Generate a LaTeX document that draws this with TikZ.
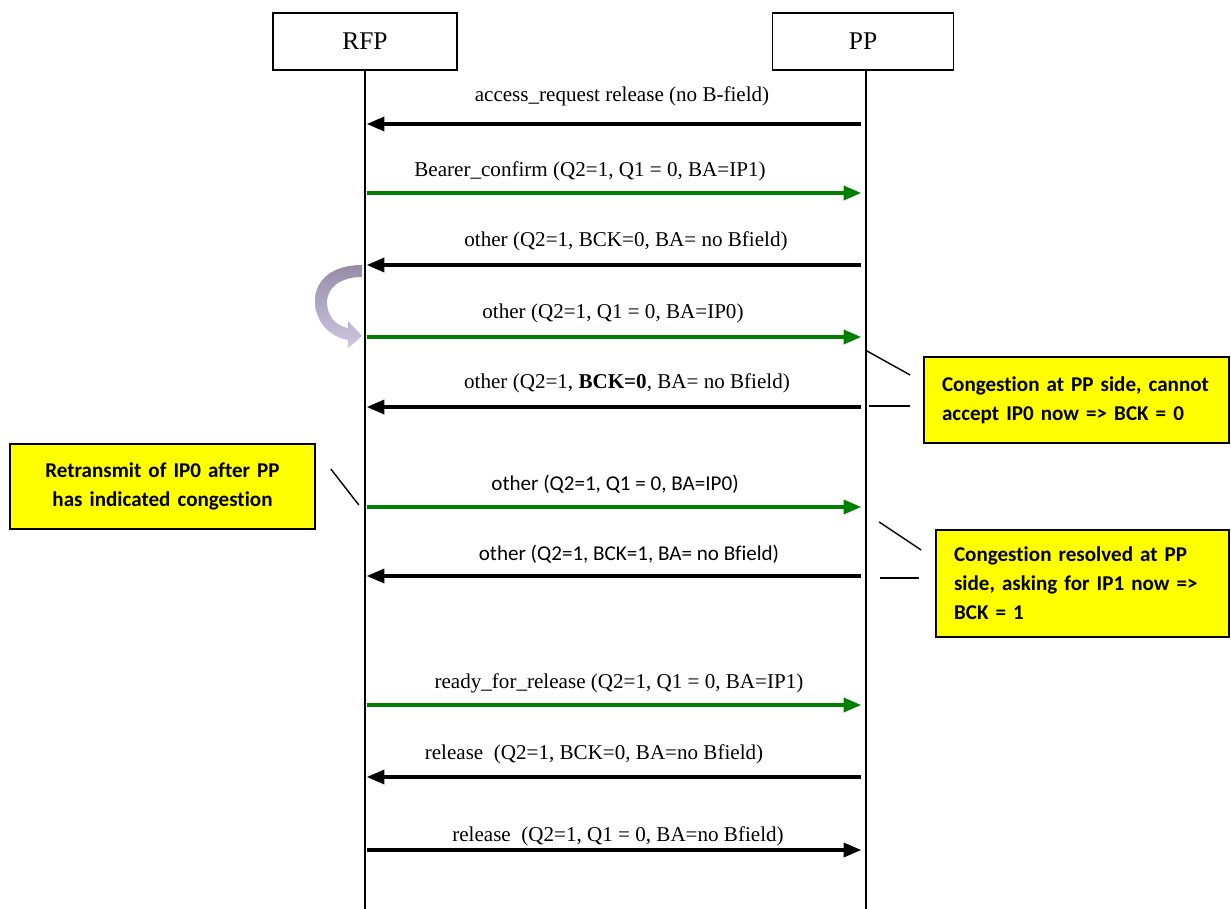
\documentclass[tikz,border=0pt]{standalone}
\usepackage{fontspec}
\setmainfont{Liberation Serif}
\newfontfamily\calibri[Ligatures=NoCommon]{Carlito}
\usetikzlibrary{arrows.meta,calc}
\definecolor{msggreen}{RGB}{0,128,0}
\definecolor{notefill}{RGB}{255,255,0}
\definecolor{loopdark}{RGB}{150,140,166}
\definecolor{looplight}{RGB}{206,198,226}

\begin{document}
\begin{tikzpicture}[x=0.02cm, y=-0.02cm, font=\fontsize{12}{14}\selectfont]
        \tikzstyle{entity} = [draw, line width=0.9pt, rectangle, minimum height=1.14cm, font=\fontsize{14.5}{16}\selectfont]
        \tikzstyle{msg} = [line width=1.8pt, -{Triangle[length=10pt, width=8pt]}, shorten >=1pt, shorten <=1pt]
        \tikzstyle{ack} = [msg, black]
        \tikzstyle{data} = [msg, msggreen]
        \tikzstyle{lbl} = [inner sep=0pt]
        \tikzstyle{slbl} = [lbl, font=\calibri\fontsize{12}{14}\selectfont]
        \tikzstyle{note} = [draw, line width=1pt, fill=notefill, inner xsep=0.36cm, font=\calibri\bfseries\fontsize{12}{16.5}\selectfont]
        \tikzstyle{callout} = [line width=0.8pt]
        \useasboundingbox (0,0) rectangle (1231,909);
        % entities and lifelines
        \node[entity, minimum width=3.68cm] (RFP) at (365, 41.5) {RFP};
        \node[entity, minimum width=3.62cm] (PP) at (863, 41.5) {PP};
        \draw[line width=1.1pt] (RFP.south) -- (RFP.south |- 0,909);
        \draw[line width=1.1pt] ($(PP.south)+(3,0)$) -- ($(PP.south |- 0,909)+(3,0)$);
        % messages
        \node[lbl] (m1) at (622, 96) {access\_request release (no B-field)};
        \draw[ack] (PP |- 0,124) -- (RFP |- 0,124);
        \node[lbl] (m2) at (590, 171) {Bearer\_confirm (Q2=1, Q1 = 0, BA=IP1)};
        \draw[data] (RFP |- 0,193) -- (PP |- 0,193);
        \node[lbl] (m3) at (626, 241) {other (Q2=1, BCK=0, BA= no Bfield)};
        \draw[ack] (PP |- 0,265) -- (RFP |- 0,265);
        \node[lbl] (m4) at (613, 313) {other (Q2=1, Q1 = 0, BA=IP0)};
        \draw[data] (RFP |- 0,337) -- (PP |- 0,337);
        \node[lbl] (m5) at (627, 383) {other (Q2=1, \textbf{BCK=0}, BA= no Bfield)};
        \draw[ack] (PP |- 0,407) -- (RFP |- 0,407);
        \node[slbl] (m6) at (615, 484) {other (Q2=1, Q1 = 0, BA=IP0)};
        \draw[data] (RFP |- 0,507) -- (PP |- 0,507);
        \node[slbl] (m7) at (629, 554) {other (Q2=1, BCK=1, BA= no Bfield)};
        \draw[ack] (PP |- 0,576) -- (RFP |- 0,576);
        \node[lbl] (m8) at (619, 683) {ready\_for\_release (Q2=1, Q1 = 0, BA=IP1)};
        \draw[data] (RFP |- 0,705) -- (PP |- 0,705);
        \node[lbl] (m9) at (594, 754) {release\ \ (Q2=1, BCK=0, BA=no Bfield)};
        \draw[ack] (PP |- 0,777) -- (RFP |- 0,777);
        \node[lbl] (m10) at (618, 836) {release\ \ (Q2=1, Q1 = 0, BA=no Bfield)};
        \draw[ack] (RFP |- 0,850) -- (PP |- 0,850);
        % retransmission loop
        \shade[top color=loopdark, bottom color=looplight]
          (362,265) .. controls (332,265) and (315,280) .. (315,301)
          .. controls (315,322) and (330,337) .. (348,340)
          -- (348,348) -- (362,336) -- (348,321) -- (348,328)
          .. controls (336,326) and (327,316) .. (327,302)
          .. controls (327,288) and (340,277) .. (362,277) -- cycle;
        % notes
        \node[note, text width=5.38cm, minimum height=1.72cm, align=left] (congA) at (1076.5, 400)
          {Congestion at PP side, cannot\\accept IP0 now => BCK = 0};
        \node[note, text width=5.38cm, minimum height=1.70cm, align=center] (retx) at (162.5, 486.5)
          {Retransmit of IP0 after PP\\has indicated congestion};
        \node[note, text width=5.14cm, minimum height=2.14cm, align=left] (congB) at (1082.5, 583.5)
          {Congestion resolved at PP\\side, asking for IP1 now =>\\BCK = 1};
        \draw[callout] ($(congA.west)+(-58,-50)$) -- ($(congA.west)+(-13,-25)$);
        \draw[callout] ($(congA.west)+(-54,6)$) -- ($(congA.west)+(-13,6)$);
        \draw[callout] ($(retx.east)+(15,-17.5)$) -- ($(retx.east)+(43,18.5)$);
        \draw[callout] ($(congB.west)+(-56,-61.5)$) -- ($(congB.west)+(-14,-33.5)$);
        \draw[callout] ($(congB.west)+(-55,-5.5)$) -- ($(congB.west)+(-16,-5.5)$);
      \end{tikzpicture}
\end{document}
